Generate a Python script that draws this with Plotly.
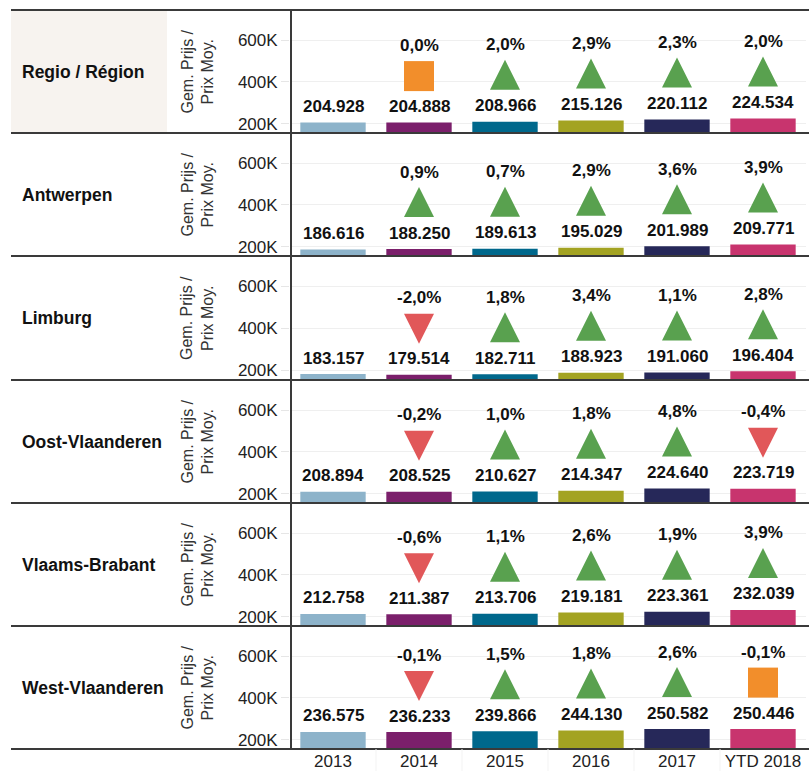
import plotly.graph_objects as go

# ---------------- data ----------------
categories = ["2013", "2014", "2015", "2016", "2017", "YTD 2018"]
regions = ["Regio / Région", "Antwerpen", "Limburg", "Oost-Vlaanderen",
           "Vlaams-Brabant", "West-Vlaanderen"]

regio = [204928, 204888, 208966, 215126, 220112, 224534]
antwerpen = [186616, 188250, 189613, 195029, 201989, 209771]
limburg = [183157, 179514, 182711, 188923, 191060, 196404]
oost_vlaanderen = [208894, 208525, 210627, 214347, 224640, 223719]
vlaams_brabant = [212758, 211387, 213706, 219181, 223361, 232039]
west_vlaanderen = [236575, 236233, 239866, 244130, 250582, 250446]

pct_regio = [None, 0.0, 2.0, 2.9, 2.3, 2.0]
pct_antwerpen = [None, 0.9, 0.7, 2.9, 3.6, 3.9]
pct_limburg = [None, -2.0, 1.8, 3.4, 1.1, 2.8]
pct_oost = [None, -0.2, 1.0, 1.8, 4.8, -0.4]
pct_vlaams = [None, -0.6, 1.1, 2.6, 1.9, 3.9]
pct_west = [None, -0.1, 1.5, 1.8, 2.6, -0.1]

trend_regio = [None, "flat", "up", "up", "up", "up"]
trend_antwerpen = [None, "up", "up", "up", "up", "up"]
trend_limburg = [None, "down", "up", "up", "up", "up"]
trend_oost = [None, "down", "up", "up", "up", "down"]
trend_vlaams = [None, "down", "up", "up", "up", "up"]
trend_west = [None, "down", "up", "up", "up", "flat"]

tick_vals = [200000, 400000, 600000]
tick_text = ["200K", "400K", "600K"]

values = [regio, antwerpen, limburg, oost_vlaanderen, vlaams_brabant, west_vlaanderen]
pcts = [pct_regio, pct_antwerpen, pct_limburg, pct_oost, pct_vlaams, pct_west]
trends = [trend_regio, trend_antwerpen, trend_limburg, trend_oost, trend_vlaams, trend_west]

# ---------------- style ----------------
W, H = 809, 771
FONT = "Arial, 'Liberation Sans', sans-serif"
bar_colors = ["#8db3ca", "#7b1f6b", "#00688c", "#a3a322", "#262859", "#c8346e"]
sym = {"up": "arrow-up", "down": "arrow-down", "flat": "square"}
sym_color = {"up": "#59a14f", "down": "#e15759", "flat": "#f28e2b"}
Y_RANGE = [155000, 745000]
row_edges = [10, 133, 256, 380, 503, 626, 749]
x_left, x_right = 290, 806

def py(p):
    return 1 - p / H

def px(p):
    return p / W

fig = go.Figure()
annotations = []
shapes = []

for i, (reg, vals, pc, tr) in enumerate(zip(regions, values, pcts, trends)):
    yname = "y" if i == 0 else f"y{i+1}"
    top, bot = row_edges[i], row_edges[i + 1]
    rowh = bot - top
    data_per_px = (Y_RANGE[1] - Y_RANGE[0]) / rowh
    # bars
    fig.add_trace(go.Bar(x=categories, y=vals, marker=dict(color=bar_colors, line=dict(width=0)),
                         width=0.76, xaxis="x", yaxis=yname, showlegend=False,
                         hoverinfo="x+y"))
    # trend markers
    mx, my, ms, mc = [], [], [], []
    for c, v, t in zip(categories, vals, tr):
        if t is None:
            continue
        if t == "up":
            off = 62 * data_per_px
        elif t == "down":
            off = 31 * data_per_px
        else:
            off = 46.5 * data_per_px
        mx.append(c)
        my.append(v + off)
        ms.append(sym[t])
        mc.append(sym_color[t])
    fig.add_trace(go.Scatter(x=mx, y=my, mode="markers", xaxis="x", yaxis=yname,
                             marker=dict(symbol=ms, color=mc, size=30, line=dict(width=0)),
                             showlegend=False, hoverinfo="skip", cliponaxis=False))
    # value labels + pct labels (x given as category index)
    for k, (v, p) in enumerate(zip(vals, pc)):
        annotations.append(dict(x=k, y=v, xref="x", yref=yname, yshift=16,
                                text="<b>" + f"{v:,}".replace(",", ".") + "</b>",
                                showarrow=False, yanchor="middle",
                                font=dict(family=FONT, size=17, color="#111")))
        if p is not None:
            annotations.append(dict(x=k, y=v, xref="x", yref=yname, yshift=77,
                                    text="<b>" + f"{p:.1f}%".replace(".", ",") + "</b>",
                                    showarrow=False, yanchor="middle",
                                    font=dict(family=FONT, size=17, color="#111")))
    # row label
    annotations.append(dict(x=px(20), y=py((top + bot) / 2), xref="paper", yref="paper",
                            text="<b>" + reg + "</b>", showarrow=False, xanchor="left",
                            yanchor="middle", font=dict(family=FONT, size=17.5, color="#111")))
    # axis title
    annotations.append(dict(x=px(197), y=py((top + bot) / 2), xref="paper", yref="paper",
                            text="Gem. Prijs /<br>Prix Moy.", showarrow=False, textangle=-90,
                            xanchor="center", yanchor="middle",
                            font=dict(family=FONT, size=16, color="#333")))
    key = "yaxis" if i == 0 else f"yaxis{i+1}"
    fig.layout[key] = dict(domain=[py(bot), py(top)], range=Y_RANGE, anchor="x",
                           tickvals=tick_vals, ticktext=tick_text, ticks="outside",
                           ticklen=8, tickcolor="#e6e6e6", showgrid=True,
                           gridcolor="#efefef", gridwidth=1, zeroline=False,
                           showline=False, automargin=False, fixedrange=True,
                           tickfont=dict(family=FONT, size=17, color="#222"))

# header background
shapes.append(dict(type="rect", xref="paper", yref="paper", x0=px(11), x1=px(167),
                   y0=py(row_edges[1]), y1=py(row_edges[0]), fillcolor="#f7f3ef",
                   line=dict(width=0), layer="below"))
# row separators
for e in row_edges:
    shapes.append(dict(type="line", xref="paper", yref="paper", x0=px(11), x1=1,
                       y0=py(e), y1=py(e), line=dict(color="#3a3a3a", width=2)))
# vertical separator
shapes.append(dict(type="line", xref="paper", yref="paper", x0=px(291), x1=px(291),
                   y0=py(row_edges[-1]), y1=py(row_edges[0]), line=dict(color="#3a3a3a", width=2)))
# faint category dividers below the axis
for k in range(len(categories) - 1):
    shapes.append(dict(type="line", xref="x", yref="paper", x0=k + 0.5, x1=k + 0.5,
                       y0=0, y1=py(row_edges[-1]), line=dict(color="#f3f3f3", width=1)))

fig.update_layout(
    width=W, height=H,
    margin=dict(l=0, r=0, t=0, b=0),
    paper_bgcolor="white", plot_bgcolor="white",
    xaxis=dict(domain=[px(x_left), px(x_right)], anchor="y6", type="category",
               range=[-0.5, len(categories) - 0.5], showgrid=False, zeroline=False,
               showline=False, ticks="", automargin=False, fixedrange=True,
               tickfont=dict(family=FONT, size=17, color="#222")),
    annotations=annotations,
    shapes=shapes,
    bargap=0.2,
    showlegend=False,
)

fig.write_html("out.html", config={"displayModeBar": False},
               post_script="document.body.style.margin='0px';document.body.style.overflow='hidden';")
